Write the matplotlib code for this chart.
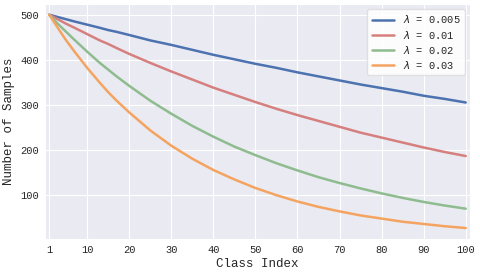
import matplotlib
matplotlib.use("Agg")
import matplotlib.pyplot as plt
import seaborn as sns

class_idx = [1, 3, 5, 7, 10, 13, 15, 17, 20, 25, 30, 35, 40, 45, 50,
             55, 60, 65, 70, 75, 80, 85, 90, 95, 100]

n_0005 = [500, 495, 490, 485, 478, 471, 466, 462, 455, 443, 433, 422, 411,
          401, 391, 382, 372, 363, 354, 345, 337, 329, 320, 313, 305]
n_001 = [500, 490, 480, 471, 457, 443, 435, 426, 413, 393, 374, 356, 338,
         322, 306, 291, 277, 264, 251, 238, 227, 216, 205, 195, 186]
n_002 = [500, 480, 462, 444, 418, 393, 378, 363, 342, 309, 280, 253, 229,
         207, 188, 170, 154, 139, 126, 114, 103, 93, 84, 76, 69]
n_003 = [500, 471, 443, 418, 382, 349, 328, 309, 283, 243, 209, 180, 155,
         134, 115, 99, 85, 73, 63, 54, 47, 40, 35, 30, 26]

labels = [r"$\lambda$ = 0.005", r"$\lambda$ = 0.01",
          r"$\lambda$ = 0.02", r"$\lambda$ = 0.03"]
colors = ['#4c72b0', '#d67f7f', '#8fbc8f', '#f4a460']
xticks = [1, 10, 20, 30, 40, 50, 60, 70, 80, 90, 100]


def main():
    sns.set_style("darkgrid")
    plt.rcParams['font.family'] = ['Liberation Mono', 'DejaVu Sans']
    plt.rcParams['mathtext.fontset'] = 'dejavusans'

    fig, ax = plt.subplots(figsize=(4.8, 2.73), dpi=100)
    fig.subplots_adjust(left=0.094, right=0.979, top=0.985, bottom=0.125)

    for ys, lab, c in zip([n_0005, n_001, n_002, n_003], labels, colors):
        ax.plot(class_idx, ys, color=c, lw=1.8, label=lab)

    ax.set_xlim(0, 101)
    ax.set_ylim(1.9, 523.7)
    ax.set_xticks(xticks)
    ax.set_yticks([100, 200, 300, 400, 500])
    ax.tick_params(labelsize=7.5, pad=1)
    ax.set_xlabel("Class Index", fontsize=9, labelpad=2)
    ax.set_ylabel("Number of Samples", fontsize=9, labelpad=4)
    leg = ax.legend(loc='upper right', fontsize=7.5, frameon=True,
                    facecolor='white', framealpha=0.9, handlelength=2.2,
                    borderpad=0.4, labelspacing=0.3)
    leg.get_frame().set_edgecolor('#dddddd')

    fig.savefig("out.png", dpi=100)


if __name__ == "__main__":
    main()
